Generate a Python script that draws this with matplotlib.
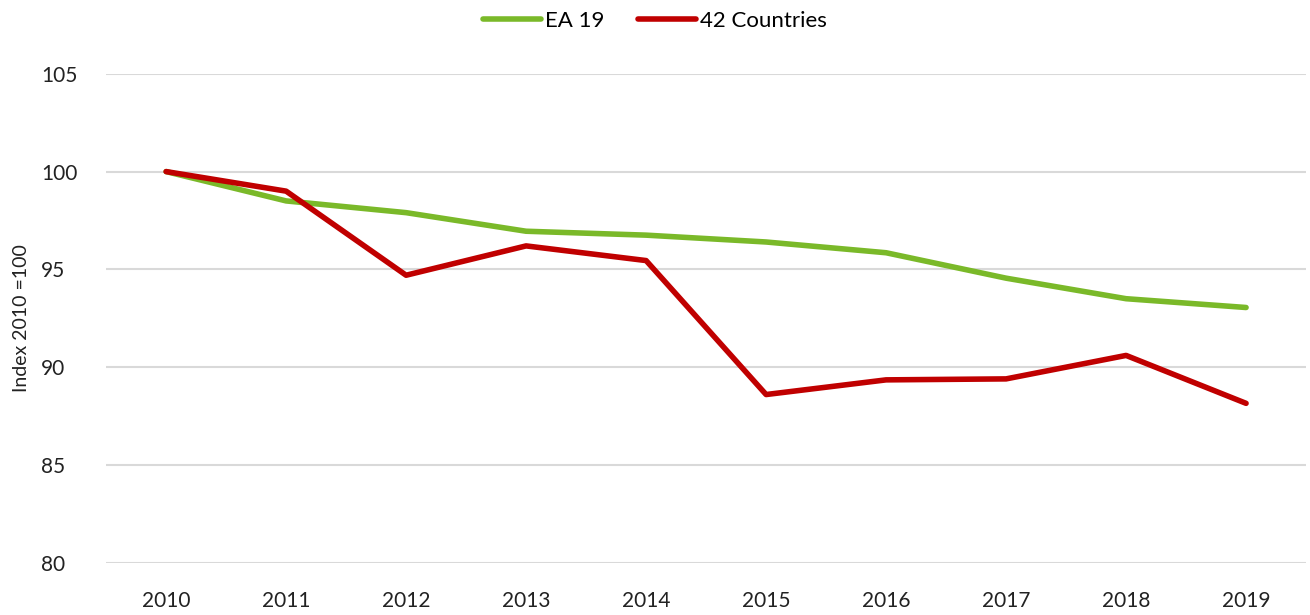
import matplotlib.pyplot as plt

plt.rcParams['font.family'] = ['Lato', 'DejaVu Sans']

years = ['2010', '2011', '2012', '2013', '2014', '2015', '2016', '2017', '2018', '2019']
ea19 = [100.0, 98.5, 97.9, 96.95, 96.75, 96.4, 95.85, 94.55, 93.5, 93.05]
countries42 = [100.0, 99.0, 94.7, 96.2, 95.45, 88.6, 89.35, 89.4, 90.6, 88.15]

fig = plt.figure(figsize=(13.1, 6.15), dpi=100)
ax = fig.add_axes([0.081, 0.085, 0.916, 0.795])

x = range(len(years))
ax.plot(x, ea19, color='#7AB929', linewidth=4, label='EA 19', solid_capstyle='round')
ax.plot(x, countries42, color='#C00000', linewidth=4, label='42 Countries', solid_capstyle='round')

ax.set_xlim(-0.5, len(years) - 0.5)
ax.set_ylim(80, 105)
ax.set_yticks([80, 85, 90, 95, 100, 105])
ax.set_xticks(list(x))
ax.set_xticklabels(years)
ax.tick_params(axis='both', length=0, labelsize=15, colors='#222222')
# y labels in the reference are left aligned
ax.tick_params(axis='y', pad=47)
for lbl in ax.get_yticklabels():
    lbl.set_horizontalalignment('left')
ax.tick_params(axis='x', pad=20)
ax.grid(axis='y', color='#D9D9D9', linewidth=1.5)
ax.set_axisbelow(True)
for s in ax.spines.values():
    s.set_visible(False)

ax.set_ylabel('Index 2010 =100', fontsize=14, color='#222222', labelpad=8)

fig.legend(loc='upper center', bbox_to_anchor=(0.5, 1.015), ncol=2, frameon=False,
           fontsize=16, handlelength=2.6, handletextpad=0.2, columnspacing=1.5)

fig.savefig('out.png', dpi=100)
